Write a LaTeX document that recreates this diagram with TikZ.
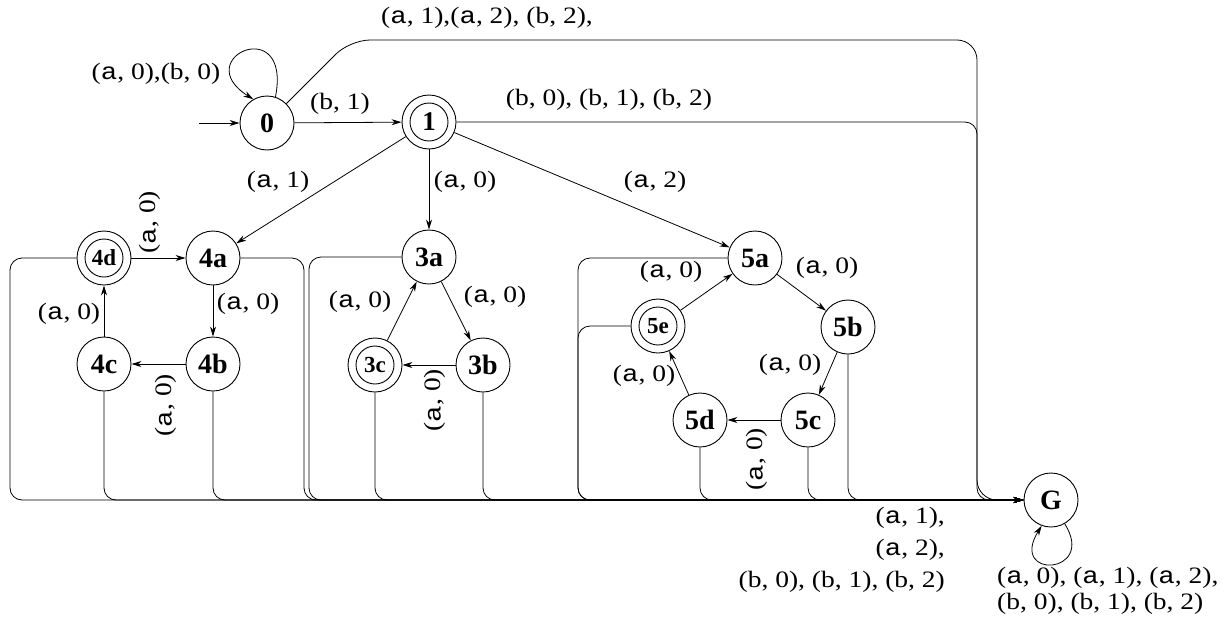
\documentclass[tikz,border=0pt]{standalone}
\usepackage{fontspec}
\setmainfont{Liberation Serif}
\newfontfamily\amono{Liberation Mono}
\usetikzlibrary{arrows.meta}
\newcommand{\ta}{{\amono a}}
\newcommand{\lbltxt}[1]{\scalebox{1.17}[1]{#1}}
\tikzset{
  st/.style={circle, draw, line width=0.9pt, minimum size=54pt, inner sep=0pt, font=\fontsize{28}{30}\selectfont\bfseries},
  acc/.style={st, font=\fontsize{23}{25}\selectfont\bfseries},
  lab/.style={font=\fontsize{23.5}{26}\selectfont, inner sep=1pt},
  ar/.style={-{Stealth[length=10pt,width=6pt]}},
  ln/.style={line width=0.8pt},
  bus/.style={ln, ar, rounded corners=12pt},
}
\begin{document}
\begin{tikzpicture}[x=1pt,y=-1pt]
\useasboundingbox (0,0) rectangle (1225,624);
% states
\node[st] (n0) at (267,123) {0};
\node[acc, font=\fontsize{27}{29}\selectfont\bfseries] (n1) at (429,122) {1};
\node[acc] (n4d) at (104,258) {4d};
\node[st] (n4a) at (213,258) {4a};
\node[st] (n4b) at (213,364) {4b};
\node[st] (n4c) at (104,364) {4c};
\node[st] (n3a) at (429,257) {3a};
\node[st] (n3b) at (483,365) {3b};
\node[acc] (n3c) at (375,365) {3c};
\node[st] (n5a) at (755,258) {5a};
\node[st] (n5b) at (848,327) {5b};
\node[st] (n5c) at (808,420) {5c};
\node[st] (n5d) at (700,420) {5d};
\node[acc] (n5e) at (658,326) {5e};
\node[st] (G) at (1051,500) {G};
\foreach \n in {n1,n4d,n3c,n5e} \draw[line width=0.9pt] (\n.center) circle (19pt);
% start
\coordinate (s0) at (199,123);
\draw[ln,ar] (s0) -- (n0);
% loop on 0
\draw[ln,ar] (n0.72) .. controls (292,12) and (188,58) .. (n0.120);
\node[lab] (l00) at (156,74) {\lbltxt{(\ta, 0),(b, 0)}};
% 0 -> 1
\draw[ln,ar] (n0) -- (n1);
\node[lab] (l01) at (340,104) {\lbltxt{(b, 1)}};
% 0 -> G
\draw[bus, rounded corners=20pt] (n0.45) -- (350,40) -- (977,40) -- (977,500) -- (G.west);
\node[lab] (l0G) at (487,18) {\lbltxt{(\ta, 1),(\ta, 2), (b, 2),}};
% 1 -> G
\draw[bus] (n1.east) -- (977,122) -- (977,500) -- (G.west);
\node[lab] (l1G) at (609,100) {\lbltxt{(b, 0), (b, 1), (b, 2)}};
% 1 -> clusters
\draw[ln,ar] (n1) -- (n4a);
\node[lab] (l14) at (278,182) {\lbltxt{(\ta, 1)}};
\draw[ln,ar] (n1) -- (n3a);
\node[lab] (l13) at (465,182) {\lbltxt{(\ta, 0)}};
\draw[ln,ar] (n1) -- (n5a);
\node[lab] (l15) at (655,182) {\lbltxt{(\ta, 2)}};
% cluster 4
\draw[ln,ar] (n4d) -- (n4a);
\node[lab, rotate=90] (l4da) at (150,222) {\lbltxt{(\ta, 0)}};
\draw[ln,ar] (n4a) -- (n4b);
\node[lab] (l4ab) at (248,304) {\lbltxt{(\ta, 0)}};
\draw[ln,ar] (n4b) -- (n4c);
\node[lab, rotate=90] (l4bc) at (166,405) {\lbltxt{(\ta, 0)}};
\draw[ln,ar] (n4c) -- (n4d);
\node[lab] (l4cd) at (69,314) {\lbltxt{(\ta, 0)}};
% cluster 3
\draw[ln,ar] (n3a) -- (n3b);
\node[lab] (l3ab) at (495,297) {\lbltxt{(\ta, 0)}};
\draw[ln,ar] (n3b) -- (n3c);
\node[lab, rotate=90] (l3bc) at (435,400) {\lbltxt{(\ta, 0)}};
\draw[ln,ar] (n3c) -- (n3a);
\node[lab] (l3ca) at (360,302) {\lbltxt{(\ta, 0)}};
% cluster 5
\draw[ln,ar] (n5a) -- (n5b);
\node[lab] (l5ab) at (827,268) {\lbltxt{(\ta, 0)}};
\draw[ln,ar] (n5b) -- (n5c);
\node[lab] (l5bc) at (790,365) {\lbltxt{(\ta, 0)}};
\draw[ln,ar] (n5c) -- (n5d);
\node[lab, rotate=90] (l5cd) at (757,459) {\lbltxt{(\ta, 0)}};
\draw[ln,ar] (n5d) -- (n5e);
\node[lab] (l5de) at (644,376) {\lbltxt{(\ta, 0)}};
\draw[ln,ar] (n5e) -- (n5a);
\node[lab] (l5ea) at (671,272) {\lbltxt{(\ta, 0)}};
% bus to G
\draw[bus] (n4d.west) -- (10,258) -- (10,500) -- (G.west);
\draw[bus] (n4c.south) -- (104,500) -- (G.west);
\draw[bus] (n4b.south) -- (213,500) -- (G.west);
\draw[bus] (n4a.east) -- (304,258) -- (304,500) -- (G.west);
\draw[bus] (n3a.west) -- (309,257) -- (309,500) -- (G.west);
\draw[bus] (n3c.south) -- (375,500) -- (G.west);
\draw[bus] (n3b.south) -- (483,500) -- (G.west);
\draw[bus] (n5a.west) -- (578,258) -- (578,500) -- (G.west);
\draw[bus] (n5e.west) -- (578,326) -- (578,500) -- (G.west);
\draw[bus] (n5d.south) -- (700,500) -- (G.west);
\draw[bus] (n5c.south) -- (808,500) -- (G.west);
\draw[bus] (n5b.south) -- (848,500) -- (G.west);
\node[lab, align=right, anchor=north east] (lbus) at (946,506) {\lbltxt{(\ta, 1),}\\[6pt]\lbltxt{(\ta, 2),}\\[6pt]\lbltxt{(b, 0), (b, 1), (b, 2)}};
% loop on G
\draw[ln,ar] (G.300) .. controls (1097,575) and (1008,580) .. (G.250);
\node[lab, align=left, anchor=north west] (lG) at (996,566) {\lbltxt{(\ta, 0), (\ta, 1), (\ta, 2),}\\\lbltxt{(b, 0), (b, 1), (b, 2)}};
\end{tikzpicture}
\end{document}
